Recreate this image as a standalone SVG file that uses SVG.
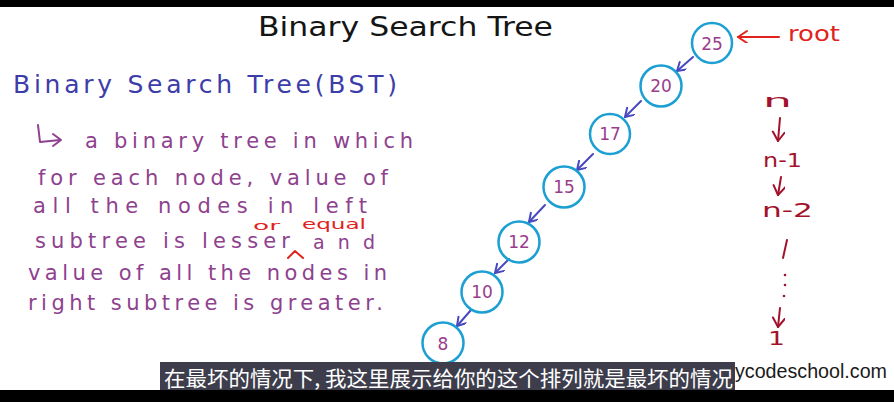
<svg xmlns="http://www.w3.org/2000/svg" width="894" height="402" viewBox="0 0 894 402">
<defs>
<marker id="ahBlue" markerUnits="userSpaceOnUse" markerWidth="12" markerHeight="12" refX="9" refY="5" orient="auto">
<path d="M1,0 L9,5 L1,10" fill="none" stroke="#4848c0" stroke-width="2" stroke-linecap="round" stroke-linejoin="round"/>
</marker>
<marker id="ahRed" markerUnits="userSpaceOnUse" markerWidth="14" markerHeight="14" refX="10" refY="6" orient="auto">
<path d="M1,0 L10,6 L1,12" fill="none" stroke="#e0231c" stroke-width="2" stroke-linecap="round" stroke-linejoin="round"/>
</marker>
<marker id="ahDark" markerUnits="userSpaceOnUse" markerWidth="14" markerHeight="14" refX="10" refY="6" orient="auto">
<path d="M1,0 L10,6 L1,12" fill="none" stroke="#a3122c" stroke-width="2" stroke-linecap="round" stroke-linejoin="round"/>
</marker>
</defs>
<style>
.hand{font-family:"DejaVu Sans","Liberation Sans",sans-serif;}
.title{font-size:26px;fill:#151515;}
.head{font-size:25px;fill:#3d3daa;}
.body{font-size:21px;fill:#8e418e;}
.red{fill:#e0231c;}
.dark{fill:#a3122c;font-size:19px;}
.node circle{fill:none;stroke:#1c9fd2;stroke-width:2.5;}
.node text{font-family:"DejaVu Sans","Liberation Sans",sans-serif;font-size:17px;fill:#9a3c8c;text-anchor:middle;}
.conn{fill:none;stroke:#4848c0;stroke-width:2;stroke-linecap:round;marker-end:url(#ahBlue);}
</style>
<rect x="0" y="0" width="894" height="402" fill="#ffffff"/>
<rect x="0" y="0" width="894" height="7" fill="#000000"/>

<text class="hand title" x="258" y="36" textLength="295" lengthAdjust="spacingAndGlyphs">Binary Search Tree</text>
<text class="hand head" x="13" y="93" textLength="384" lengthAdjust="spacing">Binary Search Tree(BST)</text>

<g id="pointer" fill="none" stroke="#8e418e" stroke-width="2" stroke-linecap="round" stroke-linejoin="round">
<path d="M38,125 L40,142 L60,140"/>
<path d="M53,134 L61,140 L53,146"/>
</g>
<g class="hand body">
<text x="85" y="148" textLength="328" lengthAdjust="spacing">a binary tree in which</text>
<text x="38" y="185" textLength="350" lengthAdjust="spacing">for each node, value of</text>
<text x="33" y="213" textLength="334" lengthAdjust="spacing">all the nodes in left</text>
<text x="35" y="248" textLength="255" lengthAdjust="spacing">subtree is lesser</text>
<text x="313" y="249" font-size="19" textLength="62" lengthAdjust="spacing">and</text>
<text x="28" y="280" textLength="359" lengthAdjust="spacing">value of all the nodes in</text>
<text x="28" y="310" textLength="355" lengthAdjust="spacing">right subtree is greater.</text>
</g>
<g id="insert">
<text class="hand red" x="253" y="230" font-size="13" textLength="27" lengthAdjust="spacingAndGlyphs">or</text>
<text class="hand red" x="302" y="229" font-size="14" textLength="64" lengthAdjust="spacingAndGlyphs">equal</text>
<path d="M288,258 L295,251 L303,258" fill="none" stroke="#e0231c" stroke-width="2" stroke-linecap="round" stroke-linejoin="round"/>
</g>

<g id="connectors">
<path class="conn" d="M693,57 L677,71"/>
<path class="conn" d="M641,101 L625,117"/>
<path class="conn" d="M593,154 L577,170"/>
<path class="conn" d="M545,205 L529,222"/>
<path class="conn" d="M509,259 L495,273"/>
<path class="conn" d="M471,310 L457,326"/>
<path d="M779,37 L738,37" fill="none" stroke="#e0231c" stroke-width="2" stroke-linecap="round" marker-end="url(#ahRed)"/>
<path d="M780,118 L778,141" fill="none" stroke="#a3122c" stroke-width="2" stroke-linecap="round" marker-end="url(#ahDark)"/>
<path d="M781,177 L778,195" fill="none" stroke="#a3122c" stroke-width="2" stroke-linecap="round" marker-end="url(#ahDark)"/>
<path d="M787,240 L783,258" fill="none" stroke="#a3122c" stroke-width="2" stroke-linecap="round"/>
<circle cx="785" cy="275" r="1.3" fill="#a3122c"/>
<circle cx="785" cy="285" r="1.3" fill="#a3122c"/>
<circle cx="784" cy="296" r="1.3" fill="#a3122c"/>
<path d="M780,308 L778,327" fill="none" stroke="#a3122c" stroke-width="2" stroke-linecap="round" marker-end="url(#ahDark)"/>
</g>

<g id="n25" class="node"><circle cx="712" cy="43" r="20"/><text x="712" y="50">25</text></g>
<g id="n20" class="node"><circle cx="661" cy="86" r="20.5"/><text x="661" y="92">20</text></g>
<g id="n17" class="node"><circle cx="610" cy="134" r="20"/><text x="610" y="140">17</text></g>
<g id="n15" class="node"><circle cx="564" cy="187" r="20.5"/><text x="564" y="193">15</text></g>
<g id="n12" class="node"><circle cx="519" cy="242" r="20.5"/><text x="519" y="248">12</text></g>
<g id="n10" class="node"><circle cx="482" cy="292" r="20.5"/><text x="482" y="298">10</text></g>
<g id="n8" class="node"><circle cx="443" cy="343" r="20.5"/><text x="443" y="350">8</text></g>

<g id="rootlabel"><text class="hand red" x="788" y="41" font-size="22" textLength="52" lengthAdjust="spacingAndGlyphs">root</text></g>
<g id="steps" class="hand dark">
<text x="763" y="107" font-size="17" textLength="29" lengthAdjust="spacingAndGlyphs">n</text>
<text x="763" y="167" textLength="39" lengthAdjust="spacingAndGlyphs">n-1</text>
<text x="762" y="217" textLength="51" lengthAdjust="spacingAndGlyphs">n-2</text>
<text x="768" y="345" textLength="17" lengthAdjust="spacingAndGlyphs">1</text>
</g>

<text x="735" y="378" font-family="Liberation Sans, Arial, sans-serif" font-size="20" fill="#1a1a1a" textLength="152" lengthAdjust="spacingAndGlyphs">ycodeschool.com</text>
<rect x="160" y="362" width="575" height="30" fill="#3d3d4c"/>
<text x="164" y="386" font-family="Noto Sans CJK SC, sans-serif" font-size="21" fill="#ffffff" textLength="569" lengthAdjust="spacingAndGlyphs">在最坏的情况下, 我这里展示给你的这个排列就是最坏的情况</text>
<rect x="0" y="390" width="894" height="12" fill="#000000"/>
</svg>
